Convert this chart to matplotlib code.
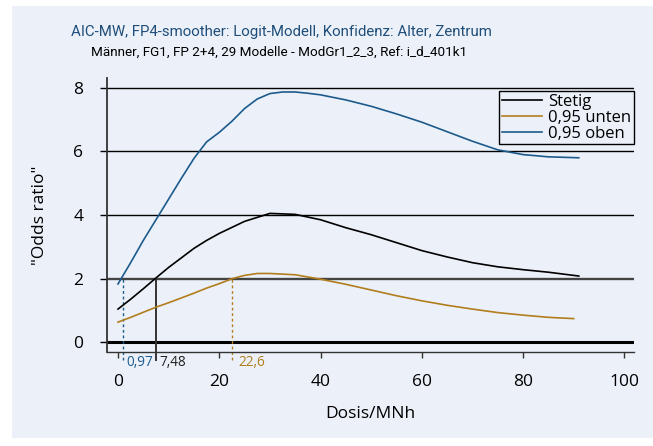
import matplotlib
matplotlib.use("Agg")
import matplotlib.pyplot as plt
from matplotlib.patches import Rectangle

# ---- data ----
x_stetig = [0, 2.5, 5, 7.5, 10, 12.5, 15, 17.5, 20, 25, 30, 35, 40, 45, 50, 55, 60, 65, 70, 75, 80, 85, 91]
y_stetig = [1.04, 1.35, 1.68, 2.02, 2.35, 2.65, 2.95, 3.2, 3.42, 3.8, 4.05, 4.02, 3.85, 3.6, 3.38, 3.13, 2.88, 2.68, 2.5, 2.37, 2.28, 2.2, 2.08]

x_unten = [0, 2.5, 5, 7.5, 10, 12.5, 15, 17.5, 20, 22.6, 25, 27.5, 30, 35, 40, 45, 50, 55, 60, 65, 70, 75, 80, 85, 90]
y_unten = [0.63, 0.78, 0.94, 1.1, 1.24, 1.39, 1.54, 1.7, 1.84, 2.0, 2.1, 2.16, 2.16, 2.12, 1.98, 1.82, 1.64, 1.46, 1.3, 1.16, 1.04, 0.93, 0.85, 0.78, 0.74]

x_oben = [0, 2.5, 5, 7.5, 10, 12.5, 15, 17.5, 20, 22.5, 25, 27.5, 30, 32.5, 35, 37.5, 40, 45, 50, 55, 60, 65, 70, 75, 80, 85, 91]
y_oben = [1.83, 2.5, 3.2, 3.85, 4.5, 5.15, 5.78, 6.3, 6.6, 6.95, 7.35, 7.65, 7.82, 7.87, 7.87, 7.83, 7.78, 7.62, 7.42, 7.18, 6.92, 6.62, 6.32, 6.05, 5.9, 5.83, 5.8]

schwellen = [0.97, 7.48, 22.6]
schwellen_labels = ["0,97", "7,48", "22,6"]
ref_or = 2.0

legend_labels = ["Stetig", "0,95 unten", "0,95 oben"]
yticks = [0, 2, 4, 6, 8]
xticks = [0, 20, 40, 60, 80, 100]

title = "AIC-MW, FP4-smoother: Logit-Modell, Konfidenz: Alter, Zentrum"
subtitle = "Männer, FG1, FP 2+4, 29 Modelle - ModGr1_2_3, Ref: i_d_401k1"

# ---- style ----
FONT = ["Open Sans", "DejaVu Sans"]
NARROW = ["Roboto", "DejaVu Sans"]
plt.rcParams["font.family"] = FONT
BG = "#ECF1F9"
C_BLACK = "#000000"
C_GOLD = "#B27D1C"
C_BLUE = "#1C5A8C"
C_TITLE = "#1F4E7A"

W, H = 653, 446
fig = plt.figure(figsize=(W / 100, H / 100), dpi=100)
fig.patch.set_facecolor("white")
fig.patches.append(Rectangle((12 / W, (H - 438) / H), 1, (438 - 6) / H,
                             transform=fig.transFigure, facecolor=BG,
                             edgecolor="none", zorder=-10))

ax = fig.add_axes([107 / W, (H - 352) / H, (634 - 107) / W, (352 - 78) / H])
ax.set_facecolor("none")
ax.set_xlim(-2.17, 101.9)
ax.set_ylim(-0.31, 8.31)

for s in ["top", "right"]:
    ax.spines[s].set_visible(False)
ax.spines["left"].set_color("#333333")
ax.spines["left"].set_linewidth(1.3)
ax.spines["bottom"].set_color("#333333")
ax.spines["bottom"].set_linewidth(1.0)

# grid lines
for yv in yticks[2:]:
    ax.axhline(yv, color="black", lw=1.0, zorder=1)
ax.axhline(ref_or, color="#444444", lw=1.7, zorder=1)
ax.axhline(0, color="black", lw=2.2, zorder=1)

# curves
l1, = ax.plot(x_stetig, y_stetig, color=C_BLACK, lw=1.2, zorder=3)
l2, = ax.plot(x_unten, y_unten, color=C_GOLD, lw=1.2, zorder=3)
l3, = ax.plot(x_oben, y_oben, color=C_BLUE, lw=1.2, zorder=3)

# threshold markers
ybot = -0.57
ax.plot([schwellen[0]] * 2, [ybot, ref_or], color=C_BLUE, lw=1.0, ls=(0, (2, 2)), clip_on=False, zorder=2)
ax.plot([schwellen[1]] * 2, [ybot, ref_or], color="#333333", lw=1.4, clip_on=False, zorder=2)
ax.plot([schwellen[2]] * 2, [ybot, ref_or], color=C_GOLD, lw=1.0, ls=(0, (2, 2)), clip_on=False, zorder=2)
for xv, lab, col, off in zip(schwellen, schwellen_labels, [C_BLUE, "#222222", C_GOLD], [3, 4, 6]):
    ax.annotate(lab, xy=(xv, 0), xycoords=("data", "axes fraction"),
                xytext=(off, -11), textcoords="offset pixels",
                ha="left", va="center", fontsize=9.8, color=col)

# ticks
ax.set_yticks(yticks)
ax.set_yticklabels([str(v) for v in yticks])
ax.tick_params(axis="y", direction="out", length=5, width=1.0, color="black",
               pad=12, labelsize=12.5)
ax.set_xticks(xticks)
ax.set_xticklabels([str(v) for v in xticks])
ax.tick_params(axis="x", direction="out", length=4.5, width=1.0, color="#333333",
               pad=11.5, labelsize=12.5)

ax.set_ylabel('"Odds ratio"', fontsize=12.5, labelpad=18)
ax.set_xlabel("Dosis/MNh", fontsize=12.5, labelpad=11)

fig.text(281 / W, 1 - 32 / H, title, ha="center", va="center",
         fontsize=10.8, color=C_TITLE, family=NARROW)
fig.text(279 / W, 1 - 52 / H, subtitle, ha="center", va="center",
         fontsize=9.7, color="black", family=NARROW)

leg = ax.legend([l1, l2, l3], legend_labels, loc="upper right",
                bbox_to_anchor=(634 / W, 1 - 91 / H), bbox_transform=fig.transFigure,
                fontsize=12, frameon=True, fancybox=False, framealpha=1,
                facecolor=BG, edgecolor="black", borderpad=0.15,
                labelspacing=0.0, handlelength=2.4, handletextpad=0.4,
                borderaxespad=0)
leg.get_frame().set_linewidth(1.0)

fig.savefig("out.png", dpi=100)
